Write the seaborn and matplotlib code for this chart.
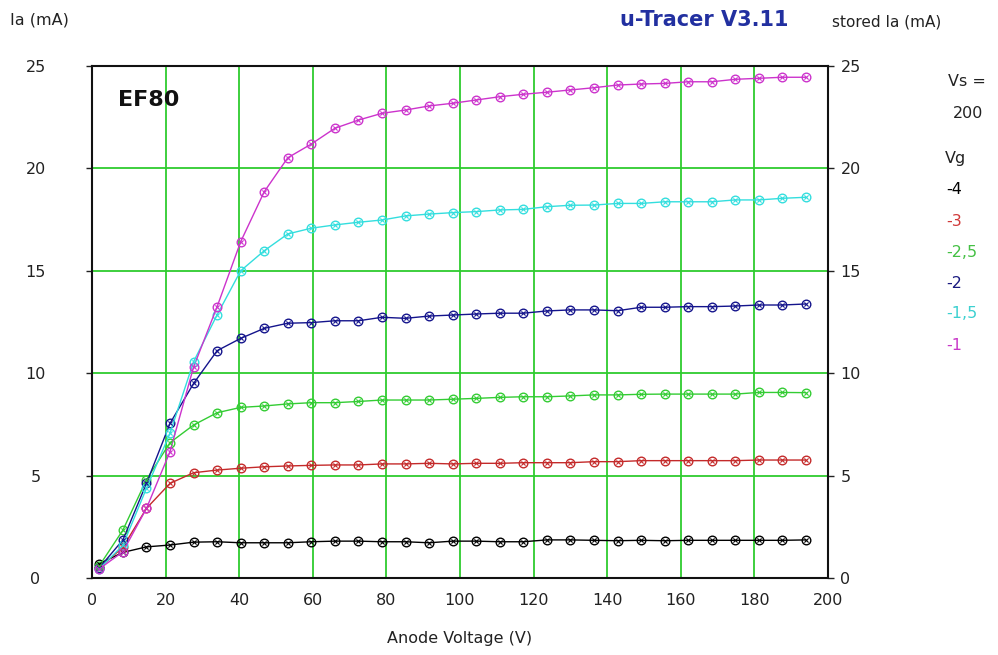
import numpy as np
import pandas as pd
import matplotlib
matplotlib.use("Agg")
import matplotlib.pyplot as plt
import seaborn as sns

# ---------------- data ----------------
anode_v = [2.0, 8.4, 14.8, 21.2, 27.6, 34.0, 40.4, 46.8, 53.2, 59.6, 66.0,
           72.4, 78.8, 85.2, 91.6, 98.0, 104.4, 110.8, 117.2, 123.6, 130.0,
           136.4, 142.8, 149.2, 155.6, 162.0, 168.4, 174.8, 181.2, 187.6, 194.0]

vg_labels = ["-4", "-3", "-2,5", "-2", "-1,5", "-1"]

ia_vg_m4 = [0.7, 1.25, 1.52, 1.61, 1.75, 1.77, 1.72, 1.72, 1.72, 1.77, 1.80,
            1.80, 1.77, 1.77, 1.72, 1.80, 1.80, 1.77, 1.77, 1.86, 1.86, 1.84,
            1.82, 1.84, 1.82, 1.84, 1.84, 1.84, 1.84, 1.84, 1.86]
ia_vg_m3 = [0.5, 1.5, 3.4, 4.62, 5.14, 5.27, 5.36, 5.43, 5.47, 5.50, 5.52,
            5.52, 5.57, 5.57, 5.60, 5.57, 5.60, 5.60, 5.63, 5.63, 5.63, 5.68,
            5.68, 5.73, 5.73, 5.73, 5.73, 5.73, 5.76, 5.76, 5.76]
ia_vg_m25 = [0.6, 2.34, 4.8, 6.61, 7.47, 8.07, 8.33, 8.40, 8.50, 8.56, 8.56,
             8.62, 8.69, 8.69, 8.69, 8.73, 8.77, 8.82, 8.85, 8.85, 8.89, 8.94,
             8.94, 8.97, 8.98, 8.98, 8.98, 8.98, 9.06, 9.06, 9.05]
ia_vg_m2 = [0.5, 1.86, 4.62, 7.55, 9.5, 11.1, 11.7, 12.19, 12.44, 12.47, 12.56,
            12.56, 12.73, 12.68, 12.79, 12.84, 12.89, 12.93, 12.93, 13.04, 13.09,
            13.09, 13.05, 13.22, 13.22, 13.25, 13.25, 13.28, 13.33, 13.33, 13.38]
ia_vg_m15 = [0.45, 1.6, 4.38, 7.07, 10.56, 12.85, 15.0, 15.98, 16.8, 17.08, 17.24,
             17.37, 17.48, 17.68, 17.77, 17.84, 17.89, 17.97, 18.0, 18.13, 18.2,
             18.21, 18.29, 18.29, 18.37, 18.37, 18.37, 18.46, 18.46, 18.54, 18.59]
ia_vg_m1 = [0.45, 1.28, 3.4, 6.17, 10.3, 13.25, 16.42, 18.86, 20.52, 21.19, 21.96,
            22.36, 22.69, 22.85, 23.05, 23.18, 23.34, 23.5, 23.62, 23.72, 23.83,
            23.94, 24.07, 24.12, 24.15, 24.23, 24.23, 24.35, 24.4, 24.45, 24.45]

x_ticks = [0, 20, 40, 60, 80, 100, 120, 140, 160, 180, 200]
y_ticks = [0, 5, 10, 15, 20, 25]

line_colors = ["#000000", "#c42a2a", "#33cc33", "#14148c", "#33dede", "#cc33cc"]
text_colors = ["#000000", "#d03a3a", "#44c044", "#1a1a80", "#3cd0d0", "#c838c8"]

series = [ia_vg_m4, ia_vg_m3, ia_vg_m25, ia_vg_m2, ia_vg_m15, ia_vg_m1]
df = pd.concat(
    [pd.DataFrame({"V": anode_v, "Ia": s, "Vg": lab}) for s, lab in zip(series, vg_labels)],
    ignore_index=True,
)
palette = dict(zip(vg_labels, line_colors))

# ---------------- figure ----------------
sns.set_style("white")
plt.rcParams["font.family"] = ["DejaVu Sans"]
W, H = 998, 655
fig = plt.figure(figsize=(W / 100, H / 100), dpi=100)
ax = fig.add_axes([92 / W, 1 - 578 / H, (828 - 92) / W, (578 - 66) / H])

sns.lineplot(data=df, x="V", y="Ia", hue="Vg", palette=palette, ax=ax,
             marker="o", markersize=6.2, markerfacecolor="none", markeredgewidth=1.0,
             linewidth=1.0, legend=False, zorder=3)
for line in ax.lines:
    line.set_markeredgecolor(line.get_color())
    line.set_markerfacecolor("none")
for lab in vg_labels:
    sub = df[df["Vg"] == lab]
    ax.scatter(sub["V"], sub["Ia"], marker="x", s=9, linewidths=0.8,
               color=palette[lab], zorder=4)

ax.set_xlim(0, 200)
ax.set_ylim(0, 25)
ax.set_xticks(x_ticks)
ax.set_yticks(y_ticks)
ax.grid(True, color="#2ecc2e", linewidth=1.3)
ax.set_axisbelow(True)
for sp in ax.spines.values():
    sp.set_visible(True)
    sp.set_color("#111111")
    sp.set_linewidth(1.5)

ax.tick_params(axis="x", direction="out", length=3, width=1, pad=8,
               labelsize=11.5, colors="#222222")
ax.tick_params(axis="y", which="both", left=True, right=True,
               labelleft=True, labelright=True, direction="out",
               length=4, width=1, labelsize=11.5, colors="#222222")
for tk in ax.yaxis.get_major_ticks():
    tk.label1.set_horizontalalignment("center")
    tk.label2.set_horizontalalignment("left")
    tk.set_pad(5)
    tk.label1.set_x(-44 / (828 - 92))

ax.set_xlabel("Anode Voltage (V)", fontsize=11.5, labelpad=16, color="#222222")
ax.set_ylabel("")


def ftext(x, y, s, **kw):
    fig.text(x / W, 1 - y / H, s, va="center", **kw)


ftext(10, 20, "Ia (mA)", fontsize=11.5, color="#222222")
ftext(704, 20, "u-Tracer V3.11", fontsize=15, color="#2230a0", ha="center",
      fontweight="bold")
ftext(832, 22, "stored Ia (mA)", fontsize=11, color="#222222")
ftext(948, 82, "Vs =", fontsize=11.5, color="#222222")
ftext(968, 113, "200", fontsize=11.5, color="#222222", ha="center")
ftext(945, 158, "Vg", fontsize=11.5, color="#222222")
ys = [190, 221, 253, 283, 314, 345]
for lab, y, c in zip(vg_labels, ys, text_colors):
    ftext(946, y, lab, fontsize=11.5, color=c)

ftext(118, 100, "EF80", fontsize=16, fontweight="bold", color="#111111")

fig.savefig("out.png", dpi=100)
